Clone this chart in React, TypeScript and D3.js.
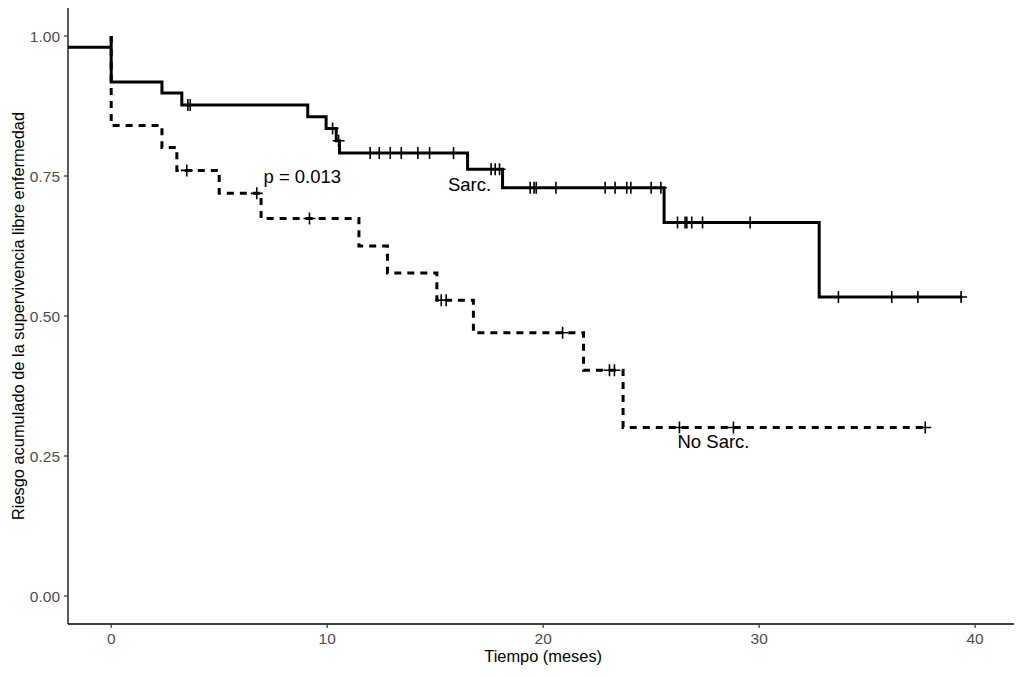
import React from 'react';
import * as d3 from 'd3';

// Kaplan-Meier curves
const sarcTimes = [-2, 0, 0, 2.35, 3.27, 9.1, 9.95, 10.42, 10.57, 16.5, 18.12, 25.6, 32.78, 39.4];
const sarcSurv = [0.98, 1.0, 0.918, 0.898, 0.877, 0.856, 0.835, 0.813, 0.791, 0.762, 0.729, 0.667, 0.534, 0.534];
const sarcCensor = [
  3.55, 3.66, 10.25, 10.53, 11.99, 12.41, 12.92, 13.43, 14.2, 14.74, 15.85,
  17.59, 17.78, 17.98, 19.4, 19.58, 19.68, 20.59, 22.87, 23.33, 23.87, 24.06, 25.0, 25.45,
  26.22, 26.57, 26.65, 26.88, 27.38, 29.58, 33.67, 36.14, 37.35, 39.35,
];

const noSarcTimes = [0, 0, 2.35, 3.04, 5.0, 6.94, 11.47, 12.79, 15.08, 16.77, 21.87, 23.7, 37.8];
const noSarcSurv = [1.0, 0.84, 0.801, 0.76, 0.719, 0.674, 0.625, 0.577, 0.528, 0.47, 0.403, 0.301, 0.301];
const noSarcCensor = [3.5, 6.74, 9.18, 15.28, 15.51, 20.9, 23.07, 23.3, 26.31, 28.81, 37.69];

const xTicks = [0, 10, 20, 30, 40];
const yTicks = [0, 0.25, 0.5, 0.75, 1.0];

const labels = [
  { text: 'p = 0.013', t: 7.05, s: 0.737 },
  { text: 'Sarc.', t: 15.59, s: 0.723 },
  { text: 'No Sarc.', t: 26.22, s: 0.264 },
];

const W = 1024;
const H = 677;
const m = { left: 68, right: 10, top: 8, bottom: 53 };

const x = d3.scaleLinear().domain([-2, 41.8]).range([m.left, W - m.right]);
const y = d3.scaleLinear().domain([-0.05, 1.05]).range([H - m.bottom, m.top]);

const line = d3
  .line<[number, number]>()
  .x(d => x(d[0]))
  .y(d => y(d[1]))
  .curve(d3.curveStepAfter);

// survival value at time t from the step function
const survAt = (times: number[], surv: number[], t: number) => {
  const i = d3.bisectRight(times, t) - 1;
  return surv[Math.max(0, i)];
};

const font = 'Liberation Sans, Arial, Helvetica, sans-serif';

const Curve: React.FC<{ times: number[]; surv: number[]; censor: number[]; dash?: string }> = ({
  times,
  surv,
  censor,
  dash,
}) => {
  const pts = times.map((t, i) => [t, surv[i]] as [number, number]);
  return (
    <g>
      <path d={line(pts) ?? ''} fill="none" stroke="#000" strokeWidth={3} strokeDasharray={dash} />
      {censor.map((t, i) => {
        const cx = x(t);
        const cy = y(survAt(times, surv, t));
        return (
          <path
            key={i}
            d={`M${cx - 6},${cy}H${cx + 6}M${cx},${cy - 6}V${cy + 6}`}
            stroke="#000"
            strokeWidth={1.6}
          />
        );
      })}
    </g>
  );
};

export default function App() {
  const x0 = m.left;
  const y0 = H - m.bottom;
  return (
    <svg width={W} height={H} style={{ position: 'absolute', left: 0, top: 0, background: '#fff' }}>
      <rect width={W} height={H} fill="#fff" />
      <Curve times={noSarcTimes} surv={noSarcSurv} censor={noSarcCensor} dash="7,6" />
      <Curve times={sarcTimes} surv={sarcSurv} censor={sarcCensor} />

      {/* axes */}
      <line x1={x0} x2={x0} y1={m.top} y2={y0} stroke="#000" strokeWidth={1.3} />
      <line x1={x0} x2={W - m.right} y1={y0} y2={y0} stroke="#000" strokeWidth={1.3} />
      {yTicks.map(v => (
        <g key={v}>
          <line x1={x0 - 4} x2={x0} y1={y(v)} y2={y(v)} stroke="#333" strokeWidth={1.2} />
          <text x={x0 - 8} y={y(v)} dy="0.36em" textAnchor="end" fontFamily={font} fontSize={15.5} fill="#4D4D4D">
            {d3.format('.2f')(v)}
          </text>
        </g>
      ))}
      {xTicks.map(v => (
        <g key={v}>
          <line x1={x(v)} x2={x(v)} y1={y0} y2={y0 + 4} stroke="#333" strokeWidth={1.2} />
          <text x={x(v)} y={644} textAnchor="middle" fontFamily={font} fontSize={15.5} fill="#4D4D4D">
            {v}
          </text>
        </g>
      ))}
      <text x={x(20)} y={662} textAnchor="middle" fontFamily={font} fontSize={16.4} fill="#000">
        Tiempo (meses)
      </text>
      <text
        transform={`translate(24,${(m.top + y0) / 2}) rotate(-90)`}
        textAnchor="middle"
        fontFamily={font}
        fontSize={16.4}
        fill="#000"
      >
        Riesgo acumulado de la supervivencia libre enfermedad
      </text>

      {labels.map(l => (
        <text key={l.text} x={x(l.t)} y={y(l.s)} fontFamily={font} fontSize={18.5} fill="#000">
          {l.text}
        </text>
      ))}
    </svg>
  );
}
